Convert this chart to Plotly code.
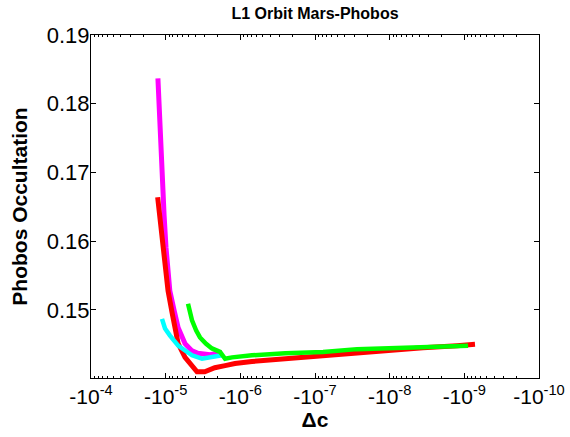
import plotly.graph_objects as go

# Δc values (negative) and Phobos occultation for each curve
red_dc = [-1.28e-5, -1.19e-5, -1.09e-5, -1.02e-5, -9.3e-6, -8.2e-6, -7.5e-6, -6.8e-6,
          -5.5e-6, -4.4e-6, -3.8e-6, -3.0e-6, -2.2e-6, -1.6e-6, -1.18e-6, -7.0e-7,
          -2.5e-7, -7.8e-8, -2.74e-8, -9.9e-9, -3.58e-9, -1.25e-9, -7.2e-10]
red_occ = [0.1664, 0.1630, 0.1591, 0.1557, 0.1528, 0.1496, 0.1470, 0.1451,
           0.1431, 0.1418, 0.1410, 0.1410, 0.1416, 0.1419, 0.1422, 0.1425,
           0.1429, 0.1434, 0.1438, 0.1442, 0.1445, 0.1448, 0.1450]

mag_dc = [-1.27e-5, -1.23e-5, -1.19e-5, -1.16e-5, -1.09e-5, -1.05e-5, -9.9e-6, -9.3e-6,
          -8.8e-6, -7.7e-6, -6.8e-6, -5.5e-6, -4.5e-6, -3.7e-6, -2.55e-6, -1.76e-6]
mag_occ = [0.1837, 0.1798, 0.1759, 0.1721, 0.1681, 0.1638, 0.1591, 0.1557,
           0.1528, 0.1499, 0.1474, 0.1451, 0.1441, 0.1437, 0.1435, 0.1438]

cyan_dc = [-1.12e-5, -1.02e-5, -8.8e-6, -6.8e-6, -5.5e-6, -4.44e-6, -3.26e-6, -2.4e-6, -1.76e-6]
cyan_occ = [0.1487, 0.1473, 0.1463, 0.1448, 0.1441, 0.1434, 0.1429, 0.1432, 0.1434]

green_dc = [-5.02e-6, -4.7e-6, -4.44e-6, -3.9e-6, -3.47e-6, -2.9e-6, -2.4e-6, -1.87e-6,
            -1.6e-6, -1.29e-6, -7.0e-7, -2.5e-7, -7.8e-8, -2.74e-8, -9.9e-9, -3.58e-9, -8.9e-10]
green_occ = [0.1509, 0.1496, 0.1485, 0.1470, 0.1460, 0.1451, 0.1444, 0.1439,
             0.1429, 0.1431, 0.1434, 0.1437, 0.1439, 0.1443, 0.1444, 0.1446, 0.1448]

x_tick_vals = [1e-4, 1e-5, 1e-6, 1e-7, 1e-8, 1e-9, 1e-10]
x_tick_text = ["-10<sup>-4</sup>", "-10<sup>-5</sup>", "-10<sup>-6</sup>", "-10<sup>-7</sup>",
               "-10<sup>-8</sup>", "-10<sup>-9</sup>", "-10<sup>-10</sup>"]
y_tick_vals = [0.15, 0.16, 0.17, 0.18, 0.19]
y_tick_text = ["0.15", "0.16", "0.17", "0.18", "0.19"]

minor_vals = [m * 10.0 ** e for e in range(-10, -4) for m in range(2, 10)]

fig = go.Figure()
series = [
    (mag_dc, mag_occ, "#FF00FF", 5),
    (red_dc, red_occ, "#FF0000", 5),
    (cyan_dc, cyan_occ, "#00FFFF", 4.5),
    (green_dc, green_occ, "#00FF00", 4.5),
]
for dc, occ, col, w in series:
    fig.add_trace(go.Scatter(x=[-v for v in dc], y=occ, mode="lines",
                             line=dict(color=col, width=w), showlegend=False))

font = "Liberation Sans, Arial, sans-serif"
fig.update_layout(
    width=570, height=437,
    margin=dict(l=91, r=31, t=35, b=59),
    paper_bgcolor="white", plot_bgcolor="white",
    font=dict(family=font, color="black"),
    title=dict(text="<b>L1 Orbit Mars-Phobos</b>", x=0.5, xref="paper", xanchor="center",
               y=1 - 13 / 437, yref="container", yanchor="middle",
               font=dict(size=16, family=font, color="black")),
    xaxis=dict(type="log", range=[-4, -10], tickmode="array", tickvals=x_tick_vals,
               ticktext=x_tick_text, ticks="inside", ticklen=5, tickcolor="black",
               showline=True, linecolor="black", linewidth=1, mirror="ticks",
               showgrid=False, zeroline=False, tickfont=dict(size=21, family=font),
               automargin=False,
               minor=dict(tickmode="array", tickvals=minor_vals, ticks="inside",
                          ticklen=2, tickcolor="black", showgrid=False),
               title=dict(text="<b>Δc</b>", font=dict(size=21, family=font), standoff=2)),
    yaxis=dict(range=[0.1401, 0.19], tickmode="array", tickvals=y_tick_vals,
               ticktext=y_tick_text,
               ticks="inside", ticklen=5, tickcolor="black",
               showline=True, linecolor="black", linewidth=1, mirror="ticks",
               showgrid=False, zeroline=False, tickfont=dict(size=22, family=font),
               ticklabelstandoff=-4, automargin=False,
               title=dict(text="<b>Phobos Occultation</b>", font=dict(size=21, family=font),
                          standoff=13)),
)
fig.write_html("out.html", config={"displayModeBar": False},
               post_script="document.body.style.margin='0';document.body.style.padding='0';")
